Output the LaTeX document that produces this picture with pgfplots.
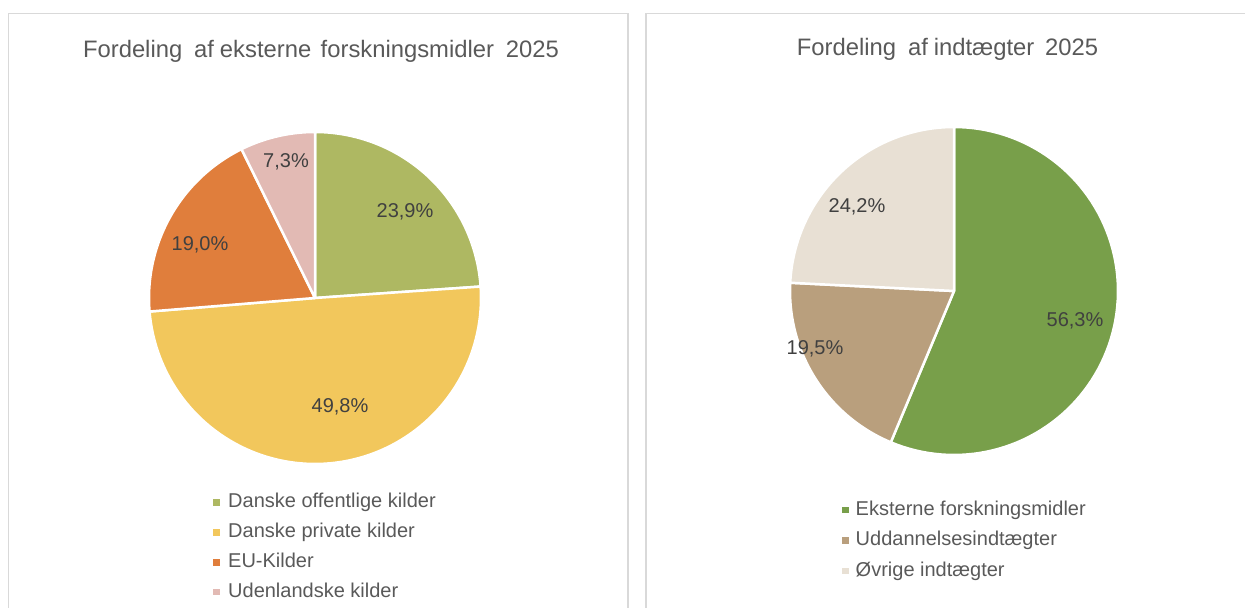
\documentclass[border=0pt]{standalone}
\usepackage{fontspec}
\setmainfont{Liberation Sans}
\usepackage{pgfplots}
\pgfplotsset{compat=1.18}

\definecolor{cA}{HTML}{AEB862}
\definecolor{cB}{HTML}{F2C75C}
\definecolor{cC}{HTML}{E07E3C}
\definecolor{cD}{HTML}{E2BAB4}
\definecolor{dA}{HTML}{789F4A}
\definecolor{dB}{HTML}{B99F7D}
\definecolor{dC}{HTML}{E8E0D4}
\definecolor{txt}{HTML}{404040}
\definecolor{ttl}{HTML}{595959}
\definecolor{frm}{HTML}{D9D9D9}

% Fordeling af eksterne forskningsmidler 2025 (percent)
\def\vA{23.9}% Danske offentlige kilder
\def\vB{49.8}% Danske private kilder
\def\vC{19.0}% EU-Kilder
\def\vD{7.3}%  Udenlandske kilder
% Fordeling af indtaegter 2025 (percent)
\def\wA{56.3}% Eksterne forskningsmidler
\def\wB{19.5}% Uddannelsesindtaegter
\def\wC{24.2}% Oevrige indtaegter

\pgfmathsetmacro\aA{90}
\pgfmathsetmacro\aB{\aA-3.6*\vA}
\pgfmathsetmacro\aC{\aB-3.6*\vB}
\pgfmathsetmacro\aD{\aC-3.6*\vC}
\pgfmathsetmacro\aE{\aD-3.6*\vD}
\pgfmathsetmacro\bA{90}
\pgfmathsetmacro\bB{\bA-3.6*\wA}
\pgfmathsetmacro\bC{\bB-3.6*\wB}
\pgfmathsetmacro\bD{\bC-3.6*\wC}

\pgfplotsset{
  piebase/.style={
    width=1245pt, height=608pt, scale only axis,
    xmin=0, xmax=1245, ymin=0, ymax=608,
    hide axis, clip=false,
    legend cell align=left,
    legend image code/.code={\fill[##1,draw=none] (0pt,-3.25pt) rectangle (6.5pt,3.25pt);},
  },
  slice/.style={draw=white, line width=2.5pt, line join=round, samples=90},
}
\tikzset{
  lbl/.style={text=txt, font=\fontsize{20}{22}\selectfont},
  ttlstyle/.style={text=ttl, font=\fontsize{23.8}{26}\selectfont, anchor=base},
}

\begin{document}
\begin{tikzpicture}
\begin{axis}[piebase, name=ax1,
  legend style={at={(0.17108,0.18832)}, anchor=north west, draw=none, fill=none,
    inner sep=0pt, row sep=11.8pt, column sep=8.5pt,
    font=\fontsize{20}{22}\selectfont, text=ttl,
    nodes={inner sep=0pt, text height=14pt, text depth=4pt}},
]
\draw[frm, line width=1.5pt] (axis cs:8.5,0) -- (axis cs:8.5,594.5) -- (axis cs:628,594.5) -- (axis cs:628,0);
\addplot[slice, fill=cA, domain=\aB:\aA] ({315+166*cos(x)},{310+166*sin(x)}) -- (axis cs:315,310) -- cycle;
\addlegendentry{Danske offentlige kilder}
\addplot[slice, fill=cB, domain=\aC:\aB] ({315+166*cos(x)},{310+166*sin(x)}) -- (axis cs:315,310) -- cycle;
\addlegendentry{Danske private kilder}
\addplot[slice, fill=cC, domain=\aD:\aC] ({315+166*cos(x)},{310+166*sin(x)}) -- (axis cs:315,310) -- cycle;
\addlegendentry{EU-Kilder}
\addplot[slice, fill=cD, domain=\aE:\aD] ({315+166*cos(x)},{310+166*sin(x)}) -- (axis cs:315,310) -- cycle;
\addlegendentry{Udenlandske kilder}
\node[lbl] at (axis cs:405,396) {23,9\%};
\node[lbl] at (axis cs:340,201) {49,8\%};
\node[lbl] at (axis cs:200,363) {19,0\%};
\node[lbl] at (axis cs:286,446) {7,3\%};
\node[ttlstyle] at (axis cs:321,550.5) {Fordeling\hspace{0.5em}af\hspace{0.25em}eksterne\hspace{0.4em}forskningsmidler\hspace{0.5em}2025};
\end{axis}
\begin{axis}[piebase,
  legend style={at={(0.67631,0.17599)}, anchor=north west, draw=none, fill=none,
    inner sep=0pt, row sep=12.5pt, column sep=7pt,
    font=\fontsize{20}{22}\selectfont, text=ttl,
    nodes={inner sep=0pt, text height=14pt, text depth=4pt}},
]
\draw[frm, line width=1.5pt] (axis cs:646,0) -- (axis cs:646,594.5) -- (axis cs:1245,594.5);
\addplot[slice, fill=dA, domain=\bB:\bA] ({954+164*cos(x)},{317+164*sin(x)}) -- (axis cs:954,317) -- cycle;
\addlegendentry{Eksterne forskningsmidler}
\addplot[slice, fill=dB, domain=\bC:\bB] ({954+164*cos(x)},{317+164*sin(x)}) -- (axis cs:954,317) -- cycle;
\addlegendentry{Uddannelsesindtægter}
\addplot[slice, fill=dC, domain=\bD:\bC] ({954+164*cos(x)},{317+164*sin(x)}) -- (axis cs:954,317) -- cycle;
\addlegendentry{Øvrige indtægter}
\node[lbl] at (axis cs:1075,287) {56,3\%};
\node[lbl] at (axis cs:815,259) {19,5\%};
\node[lbl] at (axis cs:857,401) {24,2\%};
\node[ttlstyle] at (axis cs:947.5,552) {Fordeling\hspace{0.5em}af\hspace{0.25em}indtægter\hspace{0.45em}2025};
\end{axis}
\pgfresetboundingbox
\path[use as bounding box] (ax1.south west) rectangle (ax1.north east);
\end{tikzpicture}
\end{document}
